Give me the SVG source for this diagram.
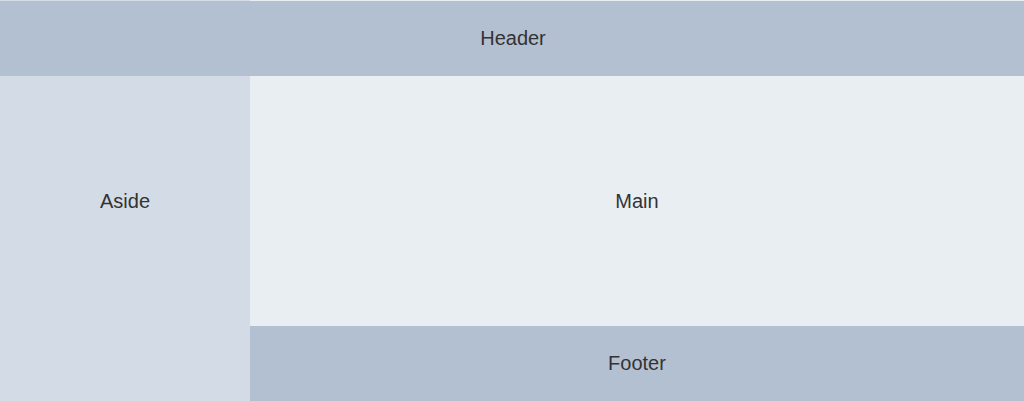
<svg xmlns="http://www.w3.org/2000/svg" width="1024" height="401" viewBox="0 0 1024 401">
<style>
text{font-family:"Liberation Sans",Arial,sans-serif;font-size:20px;fill:#333;text-anchor:middle}
</style>
<rect x="0" y="0" width="250" height="1" fill="#D3DCE6"/>
<rect x="250" y="0" width="774" height="1" fill="#E9EEF3"/>
<g id="header"><rect x="0" y="1" width="1024" height="75" fill="#B3C0D1"/><text x="513" y="45">Header</text></g>
<g id="aside"><rect x="0" y="76" width="250" height="325" fill="#D3DCE6"/><text x="125" y="208">Aside</text></g>
<g id="main"><rect x="250" y="76" width="774" height="250" fill="#E9EEF3"/><text x="637" y="208">Main</text></g>
<g id="footer"><rect x="250" y="326" width="774" height="75" fill="#B3C0D1"/><text x="637" y="370">Footer</text></g>
<g id="connectors"/>
</svg>
